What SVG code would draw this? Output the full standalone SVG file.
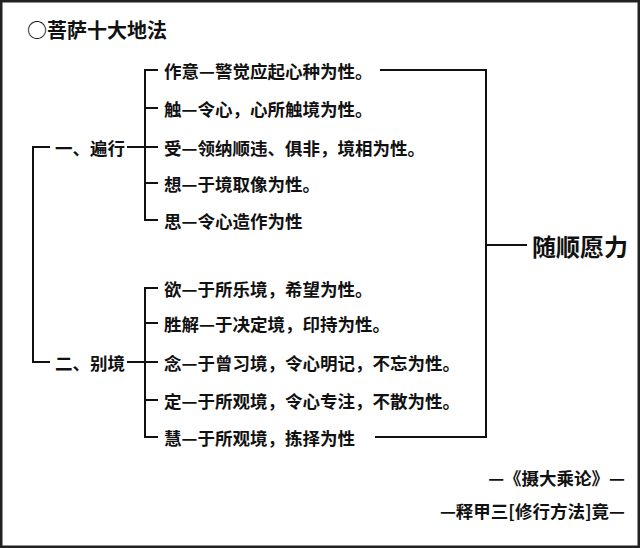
<svg xmlns="http://www.w3.org/2000/svg" width="640" height="548" viewBox="0 0 640 548">
<style>
text{font-family:"Noto Sans CJK SC","Noto Sans CJK TC",sans-serif;font-weight:bold;fill:#111;dominant-baseline:central}
.i{font-size:17.5px}
.l{stroke:#111;stroke-width:2;fill:none}
</style>
<rect x="1" y="1" width="638" height="546" fill="#fff" stroke="#222" stroke-width="3"/>
<text x="27" y="29" font-size="20">○菩萨十大地法</text>
<g id="connectors">
<path class="l" d="M158 70H145V220H158M145 108H158M145 147H158M145 183H158"/>
<path class="l" d="M158 288H145V437H158M145 323H158M145 362H158M145 400H158"/>
<path class="l" d="M127 147H145M127 362H145"/>
<path class="l" d="M50 147H33V362H50"/>
<path class="l" d="M380 70H486V437H375M486 245H527"/>
</g>
<g id="g1"><text x="55" y="147" font-size="17.5">一、遍行</text></g>
<g id="g2"><text x="55" y="362" font-size="17.5">二、别境</text></g>
<g id="items">
<text class="i" x="164" y="70">作意—警觉应起心种为性。</text>
<text class="i" x="164" y="108">触—令心，心所触境为性。</text>
<text class="i" x="164" y="147">受—领纳顺违、俱非，境相为性。</text>
<text class="i" x="164" y="183">想—于境取像为性。</text>
<text class="i" x="164" y="220">思—令心造作为性</text>
<text class="i" x="164" y="288">欲—于所乐境，希望为性。</text>
<text class="i" x="164" y="323">胜解—于决定境，印持为性。</text>
<text class="i" x="164" y="362">念—于曾习境，令心明记，不忘为性。</text>
<text class="i" x="164" y="400">定—于所观境，令心专注，不散为性。</text>
<text class="i" x="164" y="437">慧—于所观境，拣择为性</text>
</g>
<g id="result"><text x="532" y="245" font-size="24">随顺愿力</text></g>
<text x="625" y="477" font-size="17.5" text-anchor="end">—《摄大乘论》—</text>
<text x="625" y="510" font-size="17.5" text-anchor="end">—释甲三[修行方法]竟—</text>
</svg>
